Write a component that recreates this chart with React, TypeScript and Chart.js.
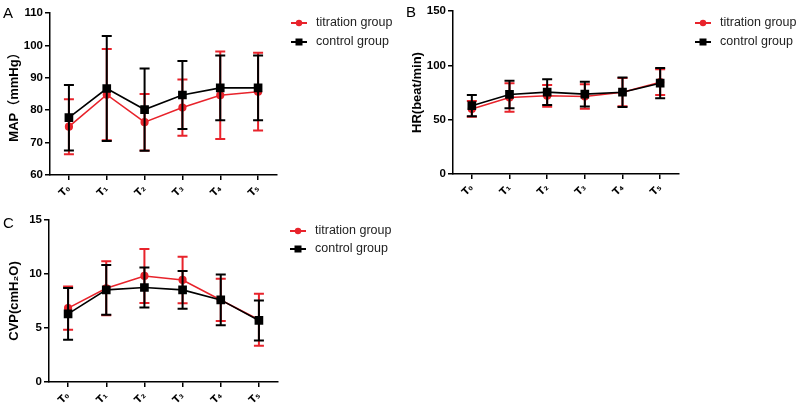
import React, { useEffect, useRef } from "react";
import { Chart, registerables } from "chart.js";

Chart.register(...registerables);

const CATEGORIES = ["T₀", "T₁", "T₂", "T₃", "T₄", "T₅"];
const SERIES_NAMES = ["titration group", "control group"];

const MAP_TITRATION = [74.9, 84.8, 76.3, 80.8, 84.6, 85.7];
const MAP_TITRATION_SD = [8.5, 14.1, 8.7, 8.7, 13.5, 12.0];
const MAP_CONTROL = [77.7, 86.7, 80.2, 84.7, 86.9, 86.9];
const MAP_CONTROL_SD = [10.1, 16.2, 12.7, 10.5, 10.0, 10.0];

const HR_TITRATION = [59.9, 70.4, 72.0, 71.3, 75.3, 84.5];
const HR_TITRATION_SD = [7.3, 13.0, 10.0, 11.3, 13.0, 11.8];
const HR_CONTROL = [62.9, 73.2, 75.3, 73.5, 75.3, 83.6];
const HR_CONTROL_SD = [9.8, 12.7, 11.8, 11.3, 13.6, 13.9];

const CVP_TITRATION = [6.84, 8.68, 9.82, 9.45, 7.6, 5.76];
const CVP_TITRATION_SD = [2.0, 2.5, 2.5, 2.15, 1.95, 2.4];
const CVP_CONTROL = [6.31, 8.53, 8.75, 8.53, 7.6, 5.7];
const CVP_CONTROL_SD = [2.4, 2.3, 1.85, 1.75, 2.35, 1.85];

const RED = "#e8232b";
const BLACK = "#000000";
const FONT = "'Liberation Sans', Arial, 'Noto Sans CJK SC', sans-serif";
const TICK_FONT = "'DejaVu Sans', 'Liberation Sans', sans-serif";

type Panel = {
  letter: string;
  yTitle: string;
  yMin: number;
  yMax: number;
  step: number;
  titration: number[];
  titrationSd: number[];
  control: number[];
  controlSd: number[];
  box: { left: number; top: number; w: number; h: number };
  area: { left: number; right: number; top: number; bottom: number };
  titlePad: number;
  letterPos: { x: number; y: number };
  legendPos: { x: number; y: number; gap: number };
};

const PANELS: Panel[] = [
  {
    letter: "A",
    yTitle: "MAP（mmHg）",
    yMin: 60,
    yMax: 110,
    step: 10,
    titration: MAP_TITRATION,
    titrationSd: MAP_TITRATION_SD,
    control: MAP_CONTROL,
    controlSd: MAP_CONTROL_SD,
    box: { left: 0, top: 0, w: 400, h: 205 },
    area: { left: 50, right: 277, top: 13, bottom: 175 },
    titlePad: 7,
    letterPos: { x: 3, y: 18 },
    legendPos: { x: 291, y: 23, gap: 19 },
  },
  {
    letter: "B",
    yTitle: "HR(beat/min)",
    yMin: 0,
    yMax: 150,
    step: 50,
    titration: HR_TITRATION,
    titrationSd: HR_TITRATION_SD,
    control: HR_CONTROL,
    controlSd: HR_CONTROL_SD,
    box: { left: 400, top: 0, w: 400, h: 205 },
    area: { left: 53, right: 279, top: 11, bottom: 174 },
    titlePad: 10,
    letterPos: { x: 6, y: 17 },
    legendPos: { x: 295, y: 23, gap: 19 },
  },
  {
    letter: "C",
    yTitle: "CVP(cmH₂O)",
    yMin: 0,
    yMax: 15,
    step: 5,
    titration: CVP_TITRATION,
    titrationSd: CVP_TITRATION_SD,
    control: CVP_CONTROL,
    controlSd: CVP_CONTROL_SD,
    box: { left: 0, top: 205, w: 400, h: 206 },
    area: { left: 49, right: 278, top: 15, bottom: 177 },
    titlePad: 7,
    letterPos: { x: 3, y: 23 },
    legendPos: { x: 290, y: 26, gap: 18 },
  },
];

const errorBarPlugin = {
  id: "errorBars",
  beforeDatasetDraw(chart: any, args: any) {
    const ds = chart.data.datasets[args.index];
    const sd: number[] = ds.errors;
    if (!sd) return;
    const y = chart.scales.y;
    const ctx = chart.ctx;
    ctx.save();
    ctx.strokeStyle = ds.borderColor;
    ctx.lineWidth = 2;
    args.meta.data.forEach((pt: any, i: number) => {
      const v = ds.data[i];
      const top = y.getPixelForValue(v + sd[i]);
      const bot = y.getPixelForValue(v - sd[i]);
      const cap = 5;
      ctx.beginPath();
      ctx.moveTo(pt.x, top);
      ctx.lineTo(pt.x, bot);
      ctx.moveTo(pt.x - cap, top);
      ctx.lineTo(pt.x + cap, top);
      ctx.moveTo(pt.x - cap, bot);
      ctx.lineTo(pt.x + cap, bot);
      ctx.stroke();
    });
    ctx.restore();
  },
};

const decorPlugin = {
  id: "decor",
  afterDraw(chart: any, _args: any, opts: any) {
    const ctx = chart.ctx;
    ctx.save();
    ctx.fillStyle = "#000";
    ctx.font = `15px ${FONT}`;
    ctx.textBaseline = "alphabetic";
    ctx.textAlign = "left";
    ctx.fillText(opts.letter, opts.letterPos.x, opts.letterPos.y);

    const lp = opts.legendPos;
    const order = [1, 0];
    order.forEach((dsIndex, row) => {
      const ds = chart.data.datasets[dsIndex];
      const yy = lp.y + row * lp.gap;
      ctx.strokeStyle = ds.borderColor;
      ctx.fillStyle = ds.borderColor;
      ctx.lineWidth = 2;
      ctx.beginPath();
      ctx.moveTo(lp.x, yy);
      ctx.lineTo(lp.x + 16, yy);
      ctx.stroke();
      if (ds.pointStyle === "rect") {
        ctx.fillRect(lp.x + 8 - 3.5, yy - 3.5, 7, 7);
      } else {
        ctx.beginPath();
        ctx.arc(lp.x + 8, yy, 3.2, 0, Math.PI * 2);
        ctx.fill();
      }
      ctx.fillStyle = "#222";
      ctx.font = `12.5px ${FONT}`;
      ctx.textBaseline = "middle";
      ctx.fillText(ds.label, lp.x + 25, yy);
    });
    ctx.restore();
  },
};

function PanelChart({ panel }: { panel: Panel }) {
  const ref = useRef<HTMLCanvasElement | null>(null);
  useEffect(() => {
    if (!ref.current) return;
    const { box, area } = panel;
    const axisGrid = {
      drawOnChartArea: false,
      drawTicks: true,
      tickLength: 5,
      color: "#000",
      lineWidth: 1.5,
    };
    const chart = new Chart(ref.current, {
      type: "line",
      data: {
        labels: CATEGORIES,
        datasets: [
          {
            label: SERIES_NAMES[1],
            data: panel.control,
            errors: panel.controlSd,
            borderColor: BLACK,
            backgroundColor: BLACK,
            pointBackgroundColor: BLACK,
            pointBorderColor: BLACK,
            pointStyle: "rect",
            pointRadius: 5,
            borderWidth: 1.6,
            tension: 0,
            fill: false,
            order: 0,
          } as any,
          {
            label: SERIES_NAMES[0],
            data: panel.titration,
            errors: panel.titrationSd,
            borderColor: RED,
            backgroundColor: RED,
            pointBackgroundColor: RED,
            pointBorderColor: RED,
            pointStyle: "circle",
            pointRadius: 3.3,
            borderWidth: 1.6,
            tension: 0,
            fill: false,
            order: 1,
          } as any,
        ],
      },
      options: {
        animation: false,
        responsive: false,
        maintainAspectRatio: false,
        events: [],
        layout: {
          padding: { left: 0, right: box.w - area.right, top: area.top, bottom: 0 },
        },
        scales: {
          x: {
            type: "category",
            offset: true,
            grid: { ...axisGrid, offset: false },
            border: { display: true, color: "#000", width: 1.5 },
            ticks: {
              color: "#000",
              font: { family: TICK_FONT, size: 10, weight: "bold" },
              minRotation: 45,
              maxRotation: 45,
              padding: 3,
              autoSkip: false,
            },
            afterFit: (s: any) => {
              s.height = box.h - area.bottom;
            },
          },
          y: {
            min: panel.yMin,
            max: panel.yMax,
            ticks: {
              stepSize: panel.step,
              color: "#000",
              font: { family: FONT, size: 11.5, weight: "bold" },
              padding: 2,
            },
            grid: axisGrid,
            border: { display: true, color: "#000", width: 1.5 },
            title: {
              display: true,
              text: panel.yTitle,
              color: "#000",
              font: { family: FONT, size: 13, weight: "bold" },
              padding: { top: panel.titlePad, bottom: 0 },
            },
            afterFit: (s: any) => {
              s.width = area.left;
            },
          },
        },
        plugins: {
          legend: { display: false },
          tooltip: { enabled: false },
          decor: {
            letter: panel.letter,
            letterPos: panel.letterPos,
            legendPos: panel.legendPos,
          },
        } as any,
      },
      plugins: [errorBarPlugin, decorPlugin],
    } as any);
    return () => chart.destroy();
  }, [panel]);
  return (
    <canvas
      ref={ref}
      width={panel.box.w}
      height={panel.box.h}
      style={{
        position: "absolute",
        left: panel.box.left,
        top: panel.box.top,
        width: panel.box.w,
        height: panel.box.h,
      }}
    />
  );
}

export default function App() {
  return (
    <div
      style={{
        position: "absolute",
        left: 0,
        top: 0,
        width: 800,
        height: 411,
        background: "#fff",
        overflow: "hidden",
      }}
    >
      {PANELS.map((p) => (
        <PanelChart key={p.letter} panel={p} />
      ))}
    </div>
  );
}
